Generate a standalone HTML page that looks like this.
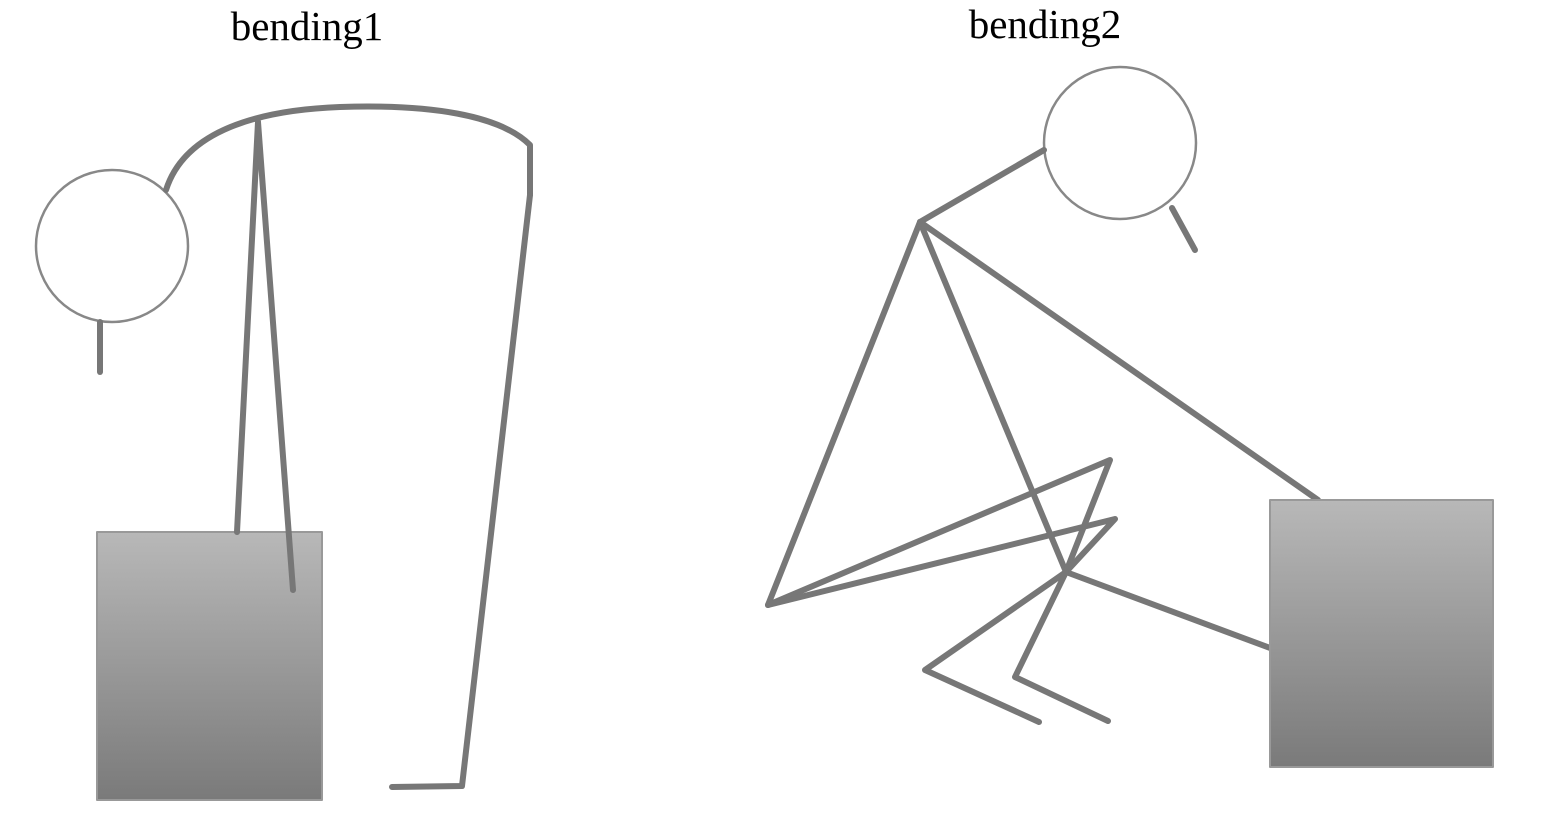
<!DOCTYPE html>
<html><head><meta charset="utf-8"><style>
html,body{margin:0;padding:0;background:#fff;}
svg{display:block;}
text{font-family:"Liberation Serif",serif;font-size:41px;fill:#000;}
</style></head><body>
<svg width="1542" height="829" viewBox="0 0 1542 829">
<defs>
<linearGradient id="g" x1="0" y1="0" x2="0" y2="1">
<stop offset="0" stop-color="#b8b8b8"/><stop offset="1" stop-color="#7a7a7a"/>
</linearGradient>
</defs>
<text x="307" y="40" text-anchor="middle">bending1</text>
<text x="1045" y="38" text-anchor="middle">bending2</text>
<g fill="none" stroke="#777" stroke-width="6" stroke-linecap="round" stroke-linejoin="round">
<rect x="97" y="532" width="225" height="268" fill="url(#g)" stroke="#999" stroke-width="2"/>
<circle cx="112" cy="246" r="76" stroke="#888" stroke-width="2.5" fill="#fff"/>
<line x1="100" y1="322" x2="100" y2="372"/>
<path d="M166,190 C185,130 260,110 340,107 C430,104 500,115 530,145 L530,195"/>
<line x1="258" y1="122" x2="237" y2="532"/>
<line x1="258" y1="122" x2="293" y2="590"/>
<polyline points="530,195 462,786 392,787"/>
</g>
<g fill="none" stroke="#777" stroke-width="6" stroke-linecap="round" stroke-linejoin="round">
<circle cx="1120" cy="143" r="76" stroke="#888" stroke-width="2.5" fill="#fff"/>
<line x1="1172" y1="208" x2="1195" y2="250"/>
<line x1="1044" y1="150" x2="920" y2="222"/>
<line x1="920" y1="222" x2="768" y2="605"/>
<line x1="920" y1="222" x2="1066" y2="572"/>
<line x1="920" y1="222" x2="1318" y2="500"/>
<polyline points="768,605 1110,460 1066,572"/>
<polyline points="768,605 1115,519 1066,572"/>
<line x1="1066" y1="572" x2="1270" y2="648"/>
<polyline points="1066,572 925,670 1039,722"/>
<polyline points="1066,572 1015,677 1108,721"/>
<rect x="1270" y="500" width="223" height="267" fill="url(#g)" stroke="#999" stroke-width="2"/>
</g>
</svg>
</body></html>
